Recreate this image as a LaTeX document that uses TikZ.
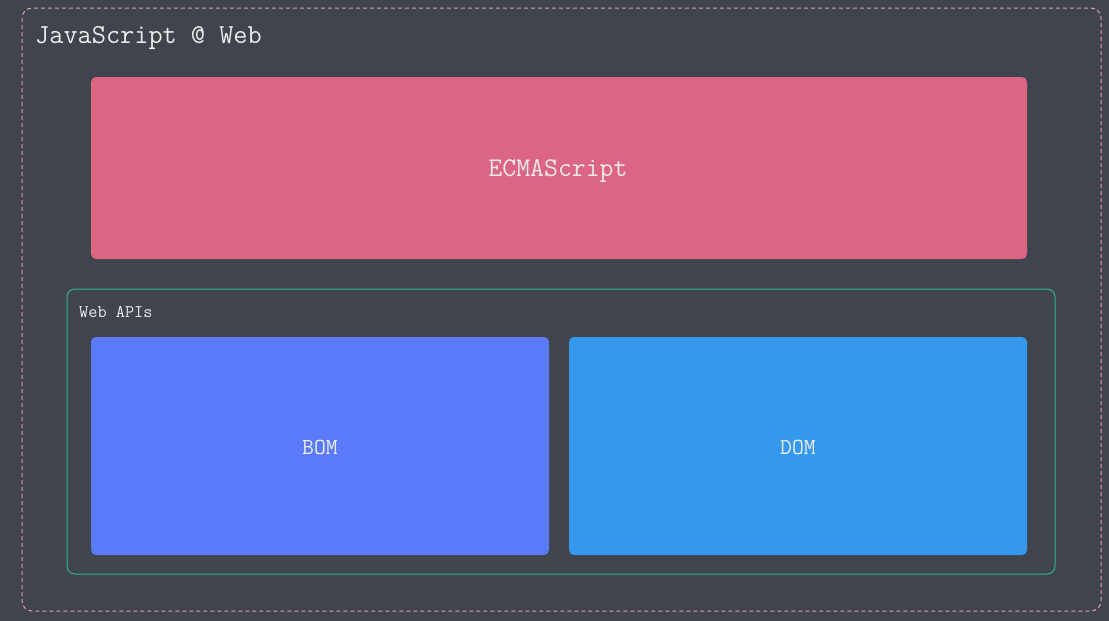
\documentclass[tikz,border=0pt]{standalone}
\usepackage{fontspec}
\begin{document}
\begin{tikzpicture}[x=1pt,y=-1pt,
  lbl/.style={text=white!92!black,font=\ttfamily,inner sep=0pt},
  block/.style={rounded corners=5pt,draw=none}]
\definecolor{bg}{HTML}{40444C}
\definecolor{outerc}{HTML}{E0A0A8}
\definecolor{greenc}{HTML}{2FB38A}
\definecolor{ecmac}{HTML}{DB6582}
\definecolor{bomc}{HTML}{5B7AF9}
\definecolor{domc}{HTML}{3499EC}
\fill[bg] (0,0) rectangle (1109,621);
\useasboundingbox (0,0) rectangle (1109,621);
\draw[outerc,dashed,dash pattern=on 4pt off 3pt,line width=1pt,rounded corners=10pt] (22,8) rectangle (1101,611);
\node[lbl,anchor=base west,font=\ttfamily\fontsize{27.5}{30}\selectfont] (title) at (35,43) {JavaScript @ Web};
\node[block,fill=ecmac,minimum width=936pt,minimum height=182pt] (ecma) at (559,168) {};
\node[lbl,anchor=base,font=\ttfamily\fontsize{27}{30}\selectfont] (ecmat) at (558,176) {ECMAScript};
\draw[greenc,line width=1pt,rounded corners=8pt] (67,289) rectangle (1055,574);
\node[lbl,anchor=base west,font=\ttfamily\fontsize{17.8}{20}\selectfont] (webapis) at (79,317) {Web APIs};
\node[block,fill=bomc,minimum width=458pt,minimum height=218pt] (bom) at (320,446) {};
\node[lbl,anchor=base,font=\ttfamily\fontsize{23}{26}\selectfont] (bomt) at (320,454) {BOM};
\node[block,fill=domc,minimum width=458pt,minimum height=218pt] (dom) at (798,446) {};
\node[lbl,anchor=base,font=\ttfamily\fontsize{23}{26}\selectfont] (domt) at (798,454) {DOM};
\end{tikzpicture}
\end{document}
